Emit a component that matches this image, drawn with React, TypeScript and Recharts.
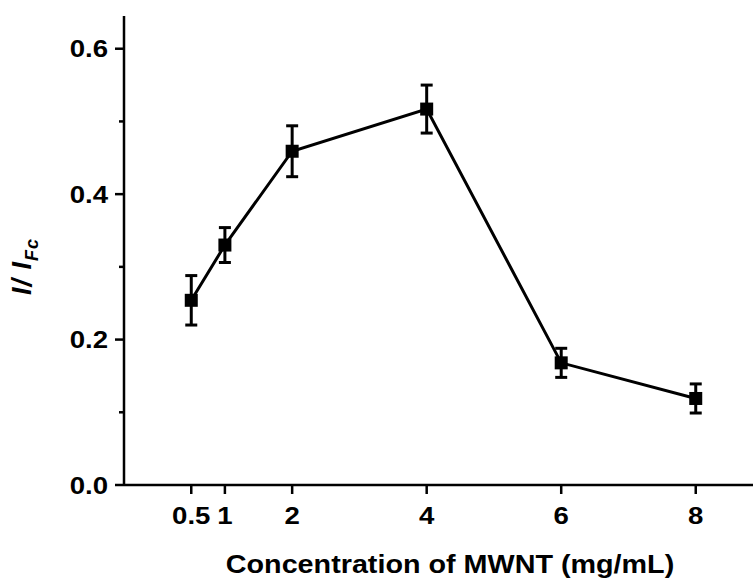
import React from 'react';
import { LineChart, Line, XAxis, YAxis, ErrorBar, Label } from 'recharts';

// MWNT concentration (mg/mL) vs normalised current I/I_Fc
const concentrations = [0.5, 1, 2, 4, 6, 8];
const ratio = [0.254, 0.33, 0.459, 0.517, 0.168, 0.119];
const ratioErr = [0.034, 0.024, 0.035, 0.033, 0.02, 0.02];

const xTicks = [0.5, 1, 2, 4, 6, 8];
const yTicks = [0, 0.1, 0.2, 0.3, 0.4, 0.5, 0.6];
const yMajor = [0, 0.2, 0.4, 0.6];

const FONT = '"Liberation Sans", Arial, sans-serif';
const STRETCH = 1.15; // the picture is a bit wide, glyphs too
const AXIS_W = 2.5;

const data = concentrations.map((c, i) => ({ x: c, y: ratio[i], err: ratioErr[i] }));

const XTick = (props: any) => {
  const { x, y, payload } = props;
  return (
    <g>
      <line x1={x} y1={y} x2={x} y2={y + 9} stroke="#000" strokeWidth={AXIS_W} />
      <g transform={`translate(${x},${y + 39}) scale(${STRETCH},1)`}>
        <text x={0} y={0} textAnchor="middle" fontFamily={FONT} fontWeight="bold" fontSize={24} fill="#000">
          {String(payload.value)}
        </text>
      </g>
    </g>
  );
};

const YTick = (props: any) => {
  const { x, y, payload } = props;
  const major = yMajor.some(v => Math.abs(v - payload.value) < 1e-6);
  return (
    <g>
      <line x1={x} y1={y} x2={x - (major ? 9 : 5)} y2={y} stroke="#000" strokeWidth={AXIS_W} />
      {major && (
        <g transform={`translate(${x - 16},${y}) scale(${STRETCH},1)`}>
          <text x={0} y={0} dy="0.36em" textAnchor="end" fontFamily={FONT} fontWeight="bold" fontSize={24} fill="#000">
            {payload.value.toFixed(1)}
          </text>
        </g>
      )}
    </g>
  );
};

const XTitle = (props: any) => {
  const { viewBox } = props;
  const cx = 450;
  const by = viewBox.y + 88;
  return (
    <g transform={`translate(${cx},${by}) scale(${STRETCH * 0.98},1)`}>
      <text x={0} y={0} textAnchor="middle" fontFamily={FONT} fontWeight="bold" fontSize={25.5} fill="#000">
        Concentration of MWNT (mg/mL)
      </text>
    </g>
  );
};

const YTitle = (props: any) => {
  const { viewBox } = props;
  const x = viewBox.x + 31;
  const y = viewBox.y + viewBox.height / 2 + 16;
  return (
    <text
      x={x}
      y={y}
      transform={`rotate(-90, ${x}, ${y})`}
      textAnchor="middle"
      fontFamily={FONT}
      fontWeight="bold"
      fontStyle="italic"
      fontSize={27}
      letterSpacing={1}
      fill="#000"
    >
      I/ I<tspan fontSize={18} dy={7}>Fc</tspan>
    </text>
  );
};

const SquareDot = (props: any) => {
  const { cx, cy, index } = props;
  if (cx == null || cy == null) return <g key={index} />;
  return <rect key={index} x={cx - 6.5} y={cy - 6.5} width={13} height={13} fill="#000" />;
};

export default function App() {
  return (
    <div style={{ position: 'absolute', left: 0, top: 0, width: 753, height: 579, overflow: 'hidden', background: '#fff' }}>
      <LineChart width={800} height={579} data={data} margin={{ top: 16, right: 37, bottom: 0, left: 0 }}>
        <XAxis
          dataKey="x"
          type="number"
          domain={[-0.5, 9]}
          ticks={xTicks}
          interval={0}
          allowDataOverflow
          height={94}
          axisLine={{ stroke: '#000', strokeWidth: AXIS_W }}
          tickLine={false}
          tickSize={0}
          tickMargin={0}
          tick={<XTick />}
        >
          <Label content={<XTitle />} />
        </XAxis>
        <XAxis
          xAxisId="top"
          dataKey="x"
          type="number"
          orientation="top"
          domain={[-0.5, 9]}
          allowDataOverflow
          height={0}
          tick={false}
          tickLine={false}
          axisLine={{ stroke: '#000', strokeWidth: AXIS_W }}
        />
        <YAxis
          type="number"
          domain={[0, 0.645]}
          ticks={yTicks}
          interval={0}
          allowDataOverflow
          width={124}
          axisLine={{ stroke: '#000', strokeWidth: AXIS_W }}
          tickLine={false}
          tickSize={0}
          tickMargin={0}
          tick={<YTick />}
        >
          <Label content={<YTitle />} />
        </YAxis>
        <Line
          dataKey="y"
          stroke="#000"
          strokeWidth={3}
          dot={<SquareDot />}
          activeDot={false}
          isAnimationActive={false}
        >
          <ErrorBar dataKey="err" direction="y" width={6} stroke="#000" strokeWidth={3} isAnimationActive={false} />
        </Line>
      </LineChart>
    </div>
  );
}
